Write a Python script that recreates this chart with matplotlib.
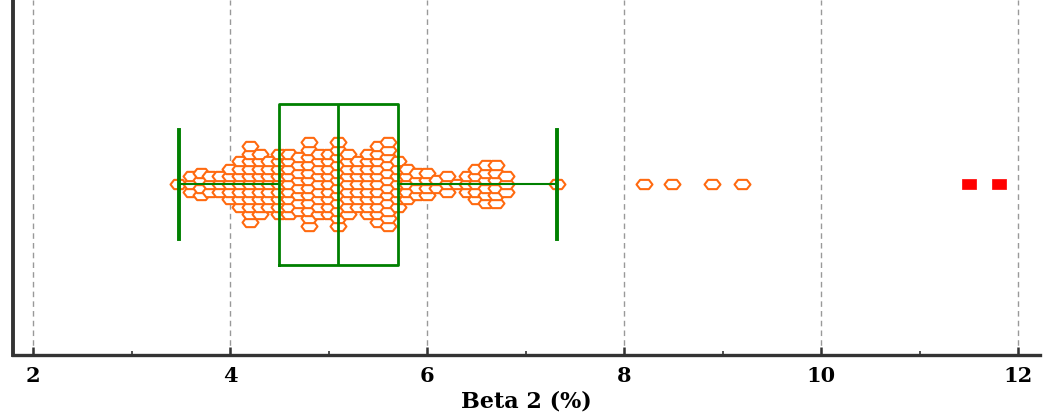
import numpy as np
import matplotlib
matplotlib.use("Agg")
import matplotlib.pyplot as plt
from matplotlib.path import Path

# Observations grouped by value (value, number of observations at that value)
dot_values = [3.47, 3.6, 3.7, 3.8, 3.9, 4.0, 4.1, 4.2, 4.3, 4.4,
              4.5, 4.6, 4.7, 4.8, 4.9, 5.0, 5.1, 5.2, 5.3, 5.4,
              5.5, 5.6, 5.7, 5.8, 5.9, 6.0, 6.1, 6.2, 6.3, 6.4,
              6.5, 6.6, 6.7, 6.8, 7.32]
dot_counts = [1, 3, 4, 3, 3, 5, 7, 11, 9, 7,
              9, 9, 8, 12, 9, 9, 12, 9, 7, 9,
              11, 12, 7, 5, 4, 4, 2, 3, 1, 3,
              5, 6, 6, 3, 1]

# Outside values (beyond 1.5 IQR) and far-out values (beyond 3 IQR)
outside_values = [8.2, 8.49, 8.89, 9.2]
far_out_values = [11.5, 11.8]

# Box-and-whisker summary
box_q1 = 4.50
box_median = 5.10
box_q3 = 5.70
whisker_low = 3.48
whisker_high = 7.32

x_ticks = [2, 4, 6, 8, 10, 12]
x_label = "Beta 2 (%)"

orange = "#FF6A10"
green = "#008000"
label_font = ["DejaVu Serif"]

# Flattened hexagon marker for the dots and a wide rectangle for far-out values
hex_marker = Path([(-1, 0), (-0.55, 0.58), (0.55, 0.58), (1, 0),
                   (0.55, -0.58), (-0.55, -0.58), (-1, 0)],
                  [Path.MOVETO] + [Path.LINETO] * 5 + [Path.CLOSEPOLY])
rect_marker = Path([(-1, -0.7), (1, -0.7), (1, 0.7), (-1, 0.7), (-1, -0.7)],
                   [Path.MOVETO] + [Path.LINETO] * 3 + [Path.CLOSEPOLY])

fig = plt.figure(figsize=(10.43, 4.16), dpi=100)
ax = fig.add_axes([13 / 1043, 61 / 416, 1027 / 1043, 355 / 416])

# y axis is in pixel-like units so dot stacking is uniform
ax.set_ylim(-171, 184)
ax.set_xlim(1.797, 12.22)

row = 7.6
xs, ys = [], []
for v, n in zip(dot_values, dot_counts):
    for i in range(n):
        xs.append(v)
        ys.append((i - (n - 1) / 2) * row)

dot_style = dict(linestyle="none", marker=hex_marker, markersize=11.5,
                 markerfacecolor="white", markeredgecolor=orange,
                 markeredgewidth=1.5, zorder=3)
ax.plot(xs, ys, **dot_style)
ax.plot(outside_values, np.zeros(len(outside_values)), **dot_style)
ax.plot(far_out_values, np.zeros(len(far_out_values)), linestyle="none",
        marker=rect_marker, markersize=10, markerfacecolor="#FF0000",
        markeredgecolor="#FF0000", markeredgewidth=0.5, zorder=3)

stats = [{"q1": box_q1, "med": box_median, "q3": box_q3,
          "whislo": whisker_low, "whishi": whisker_high, "fliers": []}]
line = dict(color=green, linewidth=2.0)
ax.bxp(stats, positions=[0], widths=161, capwidths=[109], vert=False,
       showfliers=False, boxprops=line, medianprops=line,
       whiskerprops=dict(color=green, linewidth=1.5),
       capprops=dict(color=green, linewidth=2.8), manage_ticks=False,
       zorder=4)

ax.set_xticks(x_ticks)
ax.set_xticks(range(3, 13, 2), minor=True)
ax.set_yticks([])
ax.grid(axis="x", which="major", color="#999999", linestyle=(0, (4, 3)),
        linewidth=1.0, zorder=0)

for side in ("top", "right"):
    ax.spines[side].set_visible(False)
ax.spines["left"].set_color("#333333")
ax.spines["left"].set_linewidth(2.8)
ax.spines["bottom"].set_color("#333333")
ax.spines["bottom"].set_linewidth(2.4)

ax.tick_params(axis="x", which="major", direction="in", length=6, width=1.8,
               color="#333333", pad=8)
ax.tick_params(axis="x", which="minor", direction="in", length=3, width=1.2,
               color="#333333")
for lbl in ax.get_xticklabels():
    lbl.set_fontfamily(label_font)
    lbl.set_fontweight("bold")
    lbl.set_fontsize(15)

ax.set_xlabel(x_label, fontfamily=label_font, fontweight="bold",
              fontsize=16, labelpad=3)

fig.savefig("out.png", dpi=100)
